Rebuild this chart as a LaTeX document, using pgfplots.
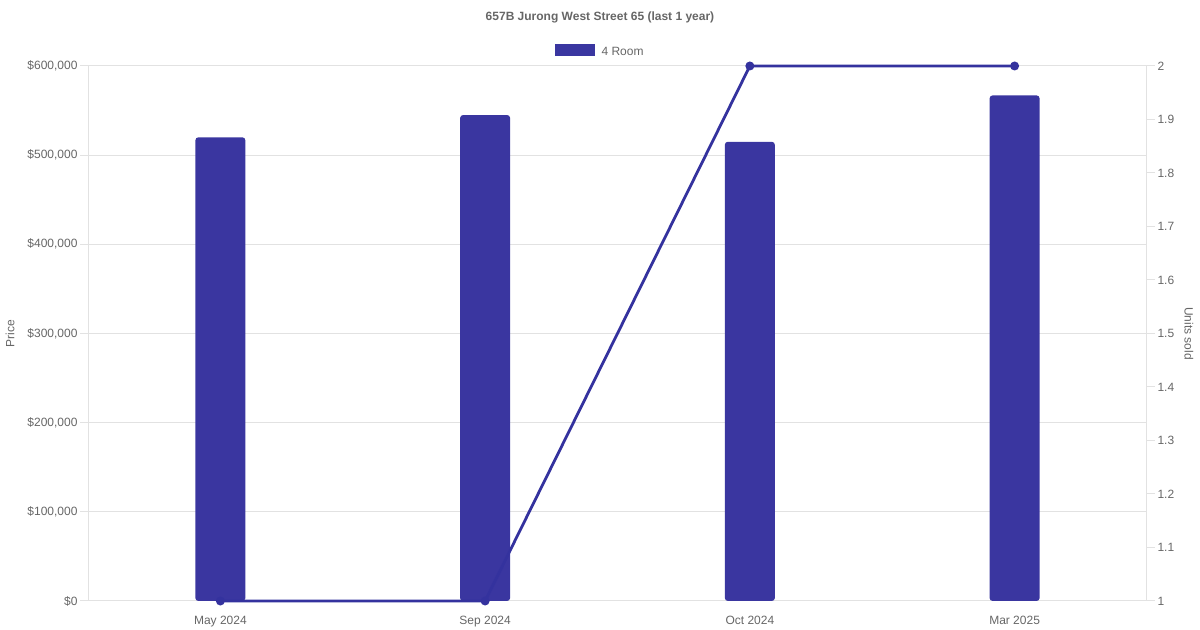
\documentclass[border=0pt]{standalone}
\usepackage{pgfplots}
\pgfplotsset{compat=1.18}
\usepackage{fontspec}
\setmainfont{Liberation Sans}
\definecolor{barcol}{RGB}{58,54,160}
\definecolor{linecol}{RGB}{52,50,158}
\definecolor{txt}{RGB}{102,102,102}
\definecolor{gridc}{RGB}{226,226,226}
\newcommand{\tf}{\fontsize{12bp}{14bp}\selectfont}
\begin{document}
\begin{tikzpicture}[x=1bp,y=1bp]
\useasboundingbox (0,0) rectangle (1200,630);
\node[font=\tf\bfseries, text=txt] at (600,613) {657B Jurong West Street 65 (last 1 year)};
\node[font=\tf, text=txt, rotate=90] at (10,296.5) {Price};
\node[font=\tf, text=txt, rotate=-90] at (1189,296.5) {Units sold};
\begin{axis}[at={(88bp,29bp)}, anchor=south west, scale only axis,
  width=1059bp, height=535bp,
  xmin=-0.5, xmax=3.5, ymin=0, ymax=600000,
  xtick={0,1,2,3}, xticklabels={May 2024, Sep 2024, Oct 2024, Mar 2025},
  ytick={0,100000,200000,300000,400000,500000,600000},
  yticklabels={{\$0},{\$100,000},{\$200,000},{\$300,000},{\$400,000},{\$500,000},{\$600,000}},
  scaled y ticks=false,
  ymajorgrids, grid style={gridc, line width=1bp},
  axis line style={gridc, line width=1bp},
  axis x line*=bottom, axis y line*=left,
  tick align=outside, major tick length=8bp,
  ytick style={gridc, line width=1bp},
  xtick style={draw=none},
  ticklabel style={font=\tf, text=txt},
  yticklabel style={xshift=1bp},
  xticklabel style={yshift=-4bp},
  legend style={at={(0.4835,1.027)}, anchor=center, draw=none, fill=none, font=\tf, text=txt, column sep=5bp},
  legend image code/.code={\fill[barcol, sharp corners] (0bp,-4bp) rectangle (40bp,8bp);},
]
\addplot[ybar, bar width=50bp, fill=barcol, draw=none, rounded corners=3bp]
  coordinates {(0,520000) (1,545000) (2,515000) (3,567000)};
\addlegendentry{4 Room}
\end{axis}
\begin{axis}[at={(88bp,29bp)}, anchor=south west, scale only axis,
  width=1059bp, height=535bp,
  xmin=-0.5, xmax=3.5, ymin=1, ymax=2,
  axis x line=none, axis y line*=right,
  axis line style={gridc, line width=1bp},
  ytick={1,1.1,1.2,1.3,1.4,1.5,1.6,1.7,1.8,1.9,2},
  yticklabels={1,1.1,1.2,1.3,1.4,1.5,1.6,1.7,1.8,1.9,2},
  tick align=outside, major tick length=8bp,
  ytick style={gridc, line width=1bp},
  ticklabel style={font=\tf, text=txt},
  yticklabel style={xshift=-1bp},
  clip=false,
]
\addplot[linecol, line width=2.8bp, mark=*, mark size=3bp, mark options={fill=linecol, draw=linecol}]
  coordinates {(0,1) (1,1) (2,2) (3,2)};
\end{axis}
\end{tikzpicture}
\end{document}
